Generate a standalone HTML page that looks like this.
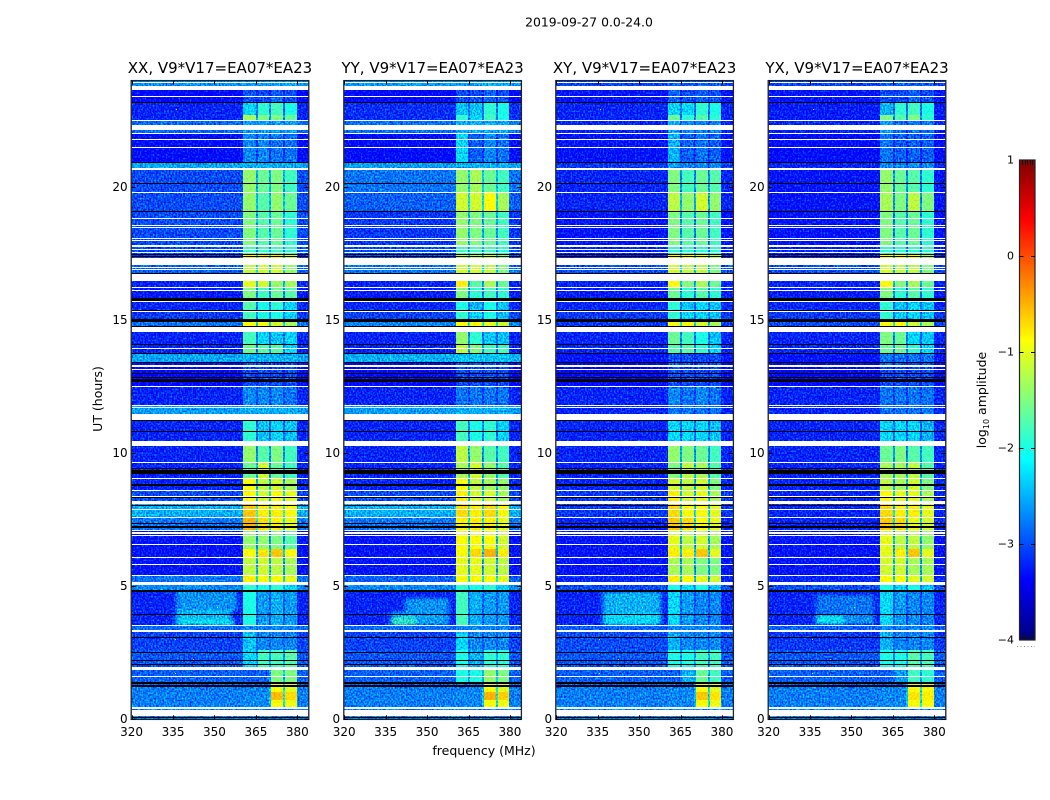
<!DOCTYPE html>
<html>
<head>
<meta charset="utf-8">
<title>2019-09-27 amplitude waterfall</title>
<style>
html,body{margin:0;padding:0;background:#fff;width:1050px;height:800px;overflow:hidden}
svg{display:block}
text{font-family:"DejaVu Sans","Liberation Sans",sans-serif;fill:#000}
</style>
</head>
<body>
<svg id="chart" xmlns="http://www.w3.org/2000/svg" width="1050" height="800" viewBox="0 0 1050 800">
  <defs id="defs"></defs>
  <text x="589" y="26.5" font-size="12.4" text-anchor="middle">2019-09-27 0.0-24.0</text>
  <text transform="translate(102,399) rotate(-90)" font-size="12.5" text-anchor="middle">UT (hours)</text>
  <text x="484" y="755" font-size="12.5" text-anchor="middle">frequency (MHz)</text>
  <text transform="translate(986,400) rotate(-90)" font-size="12.5" text-anchor="middle">log<tspan font-size="8" dy="3">10</tspan><tspan dy="-3"> amplitude</tspan></text>
</svg>
<script>
// Panel and axis labels
const panelNames = ['XX','YY','XY','YX'];
const panelTitleSuffix = ', V9*V17=EA07*EA23';
const freqTicks = [320,335,350,365,380];
const utTicks = [0,5,10,15,20];
const colorbarTicks = [1,0,-1,-2,-3,-4];
// Frequency extents (MHz) of the four spectral windows
const bandEdges = [[360.4,364.9],[365.6,369.8],[370.5,374.9],[375.6,379.8]];
// UT boundaries (hours) of the level rows, descending
const utEdges = [24,23.65,23.16,22.71,22.52,22.03,20.94,20.68,19.81,19.06,17.82,17.48,17.33,16.77,16.47,16.24,15.83,15.41,15.04,14.77,14.55,14.06,13.76,13.38,12.48,11.80,11.47,10.45,10.26,9.62,9.06,8.61,8.08,7.56,7.07,6.39,6.09,5.38,5.04,4.85,3.53,3.27,2.59,1.95,1.39,1.20,1.02,0.71,0.45,0];
// log10 amplitude per row: [background, window1, window2, window3, window4]
const levelsXX = [[-2.55,-2.5,-2.5,-2.4,-2.4],[-3.3,-2.9,-2.9,-2.8,-2.9],[-3.1,-2.2,-2.0,-1.9,-2.1],[-3.1,-1.4,-1.6,-1.6,-1.7],[-2.75,-2.5,-2.5,-2.5,-2.5],[-3.25,-2.6,-2.6,-2.7,-2.7],[-2.45,-2.4,-2.4,-2.4,-2.4],[-2.9,-1.5,-1.7,-1.6,-1.9],[-2.9,-1.5,-1.8,-1.5,-1.7],[-2.9,-1.6,-1.8,-1.7,-2.0],[-2.9,-1.9,-1.9,-1.9,-2.0],[-3.0,-0.9,-0.9,-0.9,-1.2],[-2.8,-1.3,-1.2,-1.2,-1.5],[-3.0,-1.2,-1.2,-1.2,-1.5],[-3.1,-1.1,-1.2,-1.5,-1.4],[-3.15,-1.6,-1.9,-1.7,-1.8],[-3.1,-1.8,-2.1,-2.0,-2.2],[-3.0,-1.9,-2.1,-2.1,-2.2],[-2.7,-1.0,-1.0,-1.2,-1.4],[-3.1,-2.0,-2.2,-2.3,-2.2],[-3.1,-1.9,-2.2,-2.3,-2.2],[-3.1,-1.7,-1.8,-1.8,-2.2],[-2.45,-2.4,-2.4,-2.4,-2.4],[-3.3,-2.9,-2.9,-2.9,-2.9],[-3.1,-2.6,-2.6,-2.6,-2.7],[-2.5,-2.4,-2.4,-2.4,-2.4],[-3.1,-2.0,-2.3,-2.2,-2.3],[-3.1,-1.8,-2.0,-1.9,-2.1],[-3.1,-1.5,-1.8,-1.6,-1.9],[-3.1,-1.7,-1.2,-1.7,-1.9],[-3.1,-1.0,-1.3,-1.2,-1.4],[-2.9,-0.95,-1.2,-0.95,-1.1],[-2.4,-0.7,-0.9,-0.9,-1.0],[-2.7,-0.6,-0.8,-0.9,-1.1],[-3.2,-1.5,-1.5,-1.6,-1.8],[-3.2,-1.0,-0.85,-0.7,-1.0],[-3.2,-1.3,-1.2,-1.3,-1.4],[-2.7,-0.9,-1.0,-1.0,-1.1],[-2.6,-2.0,-2.1,-2.0,-2.2],[-3.1,-2.1,-2.5,-2.4,-2.5],[-2.75,-2.6,-2.6,-2.6,-2.6],[-2.95,-2.3,-2.6,-2.6,-2.6],[-2.85,-2.2,-1.9,-1.9,-1.8],[-2.8,-2.8,-2.8,-1.6,-1.6],[-2.8,-2.8,-2.8,-1.1,-1.1],[-2.65,-2.6,-2.6,-1.0,-1.1],[-2.65,-2.6,-2.6,-0.65,-0.8],[-2.65,-2.6,-2.6,-1.0,-1.05],[-2.6,-2.6,-2.6,-2.6,-2.6]];
const levelsYY = [[-2.5,-2.5,-2.5,-2.4,-2.4],[-3.3,-2.9,-2.9,-2.8,-2.9],[-3.05,-2.3,-2.3,-2.0,-2.1],[-3.05,-2.0,-2.2,-1.9,-2.1],[-2.7,-2.4,-2.4,-2.4,-2.4],[-3.25,-2.2,-2.8,-2.6,-2.7],[-2.5,-2.4,-2.4,-2.4,-2.4],[-2.7,-1.5,-1.4,-1.7,-1.9],[-2.8,-1.2,-1.2,-1.0,-1.4],[-3.0,-1.5,-1.6,-1.7,-1.9],[-2.9,-1.9,-1.9,-1.9,-2.0],[-2.9,-1.3,-1.3,-1.2,-1.5],[-2.7,-1.2,-1.2,-1.3,-1.6],[-2.9,-1.2,-1.3,-1.4,-1.6],[-3.1,-0.9,-1.8,-1.4,-1.7],[-3.15,-1.6,-2.0,-1.9,-2.0],[-3.1,-2.1,-2.4,-2.1,-2.3],[-2.95,-2.0,-2.2,-2.1,-2.3],[-2.6,-1.0,-1.0,-1.1,-1.2],[-3.1,-1.5,-2.0,-2.3,-2.3],[-3.1,-1.5,-2.0,-2.3,-2.3],[-3.1,-1.3,-1.6,-1.9,-1.9],[-2.4,-2.3,-2.3,-2.3,-2.3],[-3.3,-2.9,-2.9,-2.9,-2.9],[-3.1,-2.7,-2.7,-2.7,-2.7],[-2.5,-2.4,-2.4,-2.4,-2.4],[-3.1,-1.9,-2.1,-2.0,-2.2],[-3.1,-1.7,-1.9,-1.9,-2.1],[-3.1,-1.3,-1.5,-1.8,-1.9],[-3.1,-1.4,-1.2,-1.5,-1.8],[-3.1,-1.0,-1.3,-1.4,-1.5],[-2.9,-0.9,-1.2,-1.2,-1.4],[-2.4,-0.8,-0.9,-0.8,-1.0],[-2.7,-0.9,-0.9,-0.9,-1.1],[-3.2,-1.0,-1.0,-1.0,-1.2],[-3.2,-1.0,-0.8,-0.6,-0.9],[-3.2,-1.1,-1.1,-1.2,-1.3],[-2.8,-1.0,-1.0,-1.0,-1.1],[-2.6,-2.0,-2.1,-2.0,-2.2],[-3.1,-1.9,-2.4,-2.5,-2.5],[-2.75,-2.6,-2.6,-2.6,-2.6],[-2.95,-2.2,-2.6,-2.6,-2.6],[-2.85,-2.1,-2.4,-2.0,-2.0],[-2.8,-2.1,-2.1,-1.5,-1.6],[-2.8,-2.7,-2.7,-1.1,-1.1],[-2.65,-2.6,-2.6,-1.0,-1.1],[-2.65,-2.6,-2.6,-0.6,-0.75],[-2.65,-2.6,-2.6,-1.0,-1.05],[-2.6,-2.6,-2.6,-2.6,-2.6]];
const levelsXY = [[-2.95,-2.8,-2.8,-2.8,-2.8],[-3.2,-2.8,-2.9,-2.8,-2.9],[-3.1,-2.2,-2.2,-2.0,-2.1],[-3.1,-1.7,-2.0,-1.8,-2.0],[-3.1,-2.4,-2.6,-2.6,-2.6],[-3.2,-2.4,-2.8,-2.7,-2.8],[-3.0,-2.5,-2.6,-2.6,-2.6],[-3.1,-1.6,-1.9,-1.7,-1.8],[-3.1,-1.3,-1.5,-1.2,-1.5],[-3.2,-1.6,-1.8,-1.7,-1.9],[-3.1,-2.0,-2.0,-2.0,-2.0],[-3.1,-1.0,-1.0,-1.0,-1.3],[-2.9,-1.2,-1.3,-1.3,-1.6],[-3.0,-1.1,-1.2,-1.3,-1.6],[-3.1,-1.0,-1.6,-1.4,-1.7],[-3.15,-1.7,-2.0,-1.8,-2.0],[-3.1,-2.0,-2.3,-2.2,-2.3],[-3.0,-2.0,-2.2,-2.2,-2.3],[-3.0,-1.0,-1.0,-1.2,-1.4],[-3.1,-1.7,-1.9,-2.1,-2.3],[-3.1,-1.7,-1.9,-2.1,-2.3],[-3.1,-1.8,-1.8,-2.0,-2.2],[-3.2,-2.9,-2.9,-2.9,-2.9],[-3.3,-2.9,-2.9,-2.9,-2.9],[-3.1,-2.6,-2.7,-2.6,-2.7],[-3.1,-2.7,-2.7,-2.7,-2.7],[-3.1,-2.2,-2.2,-2.2,-2.3],[-3.1,-1.9,-2.0,-2.0,-2.1],[-3.1,-1.5,-1.6,-1.7,-1.9],[-3.1,-1.6,-1.3,-1.4,-1.8],[-3.1,-1.2,-1.3,-1.2,-1.6],[-3.0,-0.9,-1.2,-1.1,-1.4],[-3.0,-0.8,-1.0,-1.0,-1.1],[-3.1,-0.7,-0.8,-1.0,-1.1],[-3.2,-1.1,-1.3,-1.2,-1.4],[-3.2,-0.9,-0.9,-0.7,-1.1],[-3.2,-1.4,-1.4,-1.6,-1.6],[-3.1,-0.9,-1.0,-1.1,-1.2],[-2.9,-2.1,-2.2,-2.1,-2.3],[-3.1,-2.2,-2.5,-2.6,-2.6],[-2.8,-2.6,-2.6,-2.6,-2.6],[-2.9,-2.4,-2.6,-2.6,-2.6],[-2.85,-2.1,-2.1,-1.9,-1.9],[-2.8,-2.8,-2.4,-1.7,-1.9],[-2.8,-2.8,-2.8,-1.1,-1.1],[-2.65,-2.6,-2.6,-1.0,-1.1],[-2.65,-2.6,-2.6,-0.7,-0.85],[-2.65,-2.6,-2.6,-1.0,-1.05],[-2.6,-2.6,-2.6,-2.6,-2.6]];
const levelsYX = [[-2.95,-2.8,-2.8,-2.8,-2.8],[-3.2,-2.9,-2.9,-2.8,-2.9],[-3.15,-2.4,-2.0,-1.9,-2.1],[-3.15,-1.6,-1.8,-1.6,-2.0],[-3.1,-2.5,-2.7,-2.7,-2.7],[-3.25,-2.7,-2.8,-2.8,-2.8],[-3.1,-2.6,-2.6,-2.6,-2.6],[-3.2,-1.5,-1.7,-1.8,-2.0],[-3.2,-1.4,-1.6,-1.3,-1.6],[-3.2,-1.6,-1.8,-1.7,-2.0],[-3.1,-2.0,-2.0,-2.0,-2.0],[-3.1,-1.0,-1.0,-1.0,-1.4],[-2.9,-1.2,-1.3,-1.3,-1.6],[-3.0,-1.1,-1.2,-1.3,-1.6],[-3.1,-1.0,-1.6,-1.4,-1.7],[-3.15,-1.6,-2.0,-1.8,-2.0],[-3.1,-2.0,-2.3,-2.2,-2.3],[-3.0,-2.0,-2.2,-2.2,-2.3],[-2.9,-1.0,-0.95,-1.2,-1.4],[-3.1,-1.6,-1.7,-2.2,-2.3],[-3.1,-1.6,-1.7,-2.2,-2.3],[-3.1,-1.7,-1.7,-2.0,-2.2],[-3.2,-2.7,-2.7,-2.7,-2.7],[-3.3,-2.9,-2.9,-2.9,-2.9],[-3.1,-2.7,-2.7,-2.7,-2.7],[-3.1,-2.7,-2.7,-2.7,-2.7],[-3.1,-2.2,-2.2,-2.2,-2.4],[-3.1,-1.9,-2.0,-2.0,-2.1],[-3.1,-1.7,-1.6,-1.8,-1.9],[-3.1,-1.4,-1.4,-1.3,-1.8],[-3.1,-1.3,-1.4,-1.2,-1.6],[-3.1,-1.0,-1.1,-1.1,-1.4],[-3.1,-0.8,-0.9,-0.9,-1.1],[-3.1,-0.7,-0.8,-1.1,-1.2],[-3.2,-1.1,-1.3,-1.3,-1.5],[-3.2,-1.1,-0.9,-0.7,-1.1],[-3.2,-1.2,-1.2,-1.4,-1.4],[-3.1,-1.0,-1.0,-1.1,-1.2],[-2.9,-2.1,-2.2,-2.1,-2.3],[-3.1,-2.2,-2.5,-2.6,-2.6],[-2.8,-2.6,-2.6,-2.6,-2.6],[-3.0,-2.4,-2.6,-2.6,-2.6],[-2.85,-2.1,-2.1,-1.8,-1.9],[-2.8,-2.8,-2.5,-1.9,-2.0],[-2.8,-2.8,-2.8,-1.1,-1.1],[-2.65,-2.6,-2.6,-1.0,-1.0],[-2.65,-2.6,-2.6,-0.85,-0.9],[-2.65,-2.6,-2.6,-1.0,-1.0],[-2.6,-2.6,-2.6,-2.6,-2.6]];
const panelLevels = [levelsXX, levelsYY, levelsXY, levelsYX];
// Broad-band emission patches: [utLow, utHigh, freqLow, freqHigh, log10 amplitude]
const patchesXX = [[4.06,4.85,336,358,-2.55],[3.72,4.10,336,356,-2.35],[3.53,3.72,336,357,-2.05]];
const patchesYY = [[4.02,4.55,342,358,-2.55],[3.53,4.02,337,358,-2.5],[3.53,3.83,337,346,-1.85]];
const patchesXY = [[3.95,4.77,337,358,-2.4],[3.53,3.95,337,358,-2.2]];
const patchesYX = [[3.87,4.66,337,358,-2.7],[3.57,3.87,337,358,-2.55],[3.57,3.87,337,347,-2.05]];
const panelPatches = [patchesXX, patchesYY, patchesXY, patchesYX];
// Flagged time ranges (hours)
const whiteFlags = [[23.91,23.95],[23.65,23.80],[23.39,23.42],[22.48,22.52],[22.14,22.33],[21.99,22.02],[21.78,21.80],[21.48,21.50],[20.64,20.71],[19.79,19.81],[18.81,18.83],[18.55,18.58],[18.46,18.50],[18.05,18.08],[17.97,18.01],[17.74,17.82],[17.63,17.67],[17.55,17.58],[17.07,17.33],[16.98,17.00],[16.87,16.91],[16.47,16.72],[16.21,16.24],[16.12,16.14],[15.68,15.71],[15.33,15.36],[14.55,14.77],[13.91,13.94],[13.23,13.32],[13.12,13.15],[12.49,12.52],[11.78,11.80],[11.69,11.73],[11.24,11.47],[10.40,10.44],[10.27,10.39],[9.62,9.66],[9.03,9.06],[8.57,8.60],[8.36,8.39],[8.08,8.20],[7.87,7.89],[7.56,7.61],[7.07,7.13],[6.98,7.02],[6.91,6.93],[6.55,6.58],[6.06,6.10],[5.83,5.85],[5.38,5.41],[5.04,5.15],[3.53,3.56],[3.28,3.35],[1.84,1.97],[1.58,1.62],[0.40,0.45],[0.11,0.34]];
const blackFlags = [[23.17,23.20],[20.91,20.95],[20.11,20.14],[19.06,19.09],[17.45,17.49],[17.41,17.42],[16.74,16.77],[15.71,15.82],[15.36,15.39],[14.94,15.03],[14.76,14.80],[14.06,14.09],[13.72,13.75],[13.38,13.41],[12.96,13.00],[12.83,12.88],[12.68,12.78],[11.20,11.23],[10.79,10.84],[9.40,9.45],[9.22,9.37],[8.77,8.86],[8.33,8.36],[8.03,8.06],[7.33,7.37],[7.18,7.26],[4.80,4.85],[3.92,3.95],[3.06,3.08],[2.48,2.51],[2.22,2.24],[2.02,2.06],[1.33,1.40],[1.21,1.28],[0.03,0.08]];
// Isolated interference pixels: [ut, freq, log10 amplitude]
const hotPixels = [[3.03,335.6,-0.8],[2.55,342.3,0.1],[2.25,342.3,-0.6],[2.02,342.3,0.1],[1.75,335.6,-0.8],[1.72,342.3,0.1],[1.60,352.6,0.0],[4.2,351,-1.2],[22.95,336,-0.7]];

const SVG_NS = 'http://www.w3.org/2000/svg';
const svg = document.getElementById('chart');
const defs = document.getElementById('defs');
const panelLeft = [131.6,344.2,556.2,768.6];
const plotWidth = 176.8;
const plotBottom = 719.2;
const pxPerHour = 26.6;
const pxPerDecade = 96;
const smoothAbove = -2.15;
const smoothLift = 0.1;
const colorbarLeft = 1019.5, colorbarWidth = 15.5, colorbarTop = 160;

function xScale(panel, freq){ return panelLeft[panel] + (freq - 320) * plotWidth / 64; }
function yScale(ut){ return plotBottom - ut * pxPerHour; }
function cbScale(v){ return colorbarTop + (1 - v) * pxPerDecade; }
function clip01(a){ return Math.max(0, Math.min(1, a)); }
function jet(v){
  const t = clip01((v + 4) / 5);
  const r = clip01(Math.min(4 * t - 1.5, -4 * t + 4.5));
  const g = clip01(Math.min(4 * t - 0.5, -4 * t + 3.5));
  const b = clip01(Math.min(4 * t + 0.5, -4 * t + 2.5));
  return 'rgb(' + Math.round(r * 255) + ',' + Math.round(g * 255) + ',' + Math.round(b * 255) + ')';
}
function make(tag, attrs, parent){
  const el = document.createElementNS(SVG_NS, tag);
  for (const k in attrs) el.setAttribute(k, attrs[k]);
  parent.appendChild(el);
  return el;
}
function rectSnap(x0, x1, yTop, yBot, fill, parent){
  const ya = Math.round(yTop);
  const h = Math.max(1, Math.round(yBot) - ya);
  const xa = Math.round(x0);
  return make('rect', {x: xa, y: ya, width: Math.max(1, Math.round(x1) - xa), height: h, fill: fill, 'shape-rendering': 'crispEdges'}, parent);
}
function makeNoiseFilter(id, seed, values){
  const f = make('filter', {id: id, x: 0, y: 0, width: 1, height: 1, 'color-interpolation-filters': 'sRGB'}, defs);
  make('feTurbulence', {type: 'fractalNoise', baseFrequency: '0.62 0.55', numOctaves: 1, seed: seed, result: 'raw'}, f);
  make('feColorMatrix', {'in': 'raw', type: 'matrix', values: values, result: 'tone'}, f);
  make('feComposite', {'in': 'SourceGraphic', in2: 'tone', operator: 'arithmetic', k1: 0, k2: 1, k3: 1, k4: -0.5, result: 'mixed'}, f);
  make('feComposite', {'in': 'mixed', in2: 'SourceAlpha', operator: 'in'}, f);
}

const blurFilter = make('filter', {id: 'soften', x: -0.1, y: -0.2, width: 1.2, height: 1.4}, defs);
make('feGaussianBlur', {stdDeviation: '2.2 1.4'}, blurFilter);

panelNames.forEach(function(name, p){
  makeNoiseFilter('speckle' + p, 3 + p * 7, '0.3 0 0 0 0.3  1.5 0 0 0 -0.34  0 0.4 0 0 0.3  0 0 0 0 1');
  makeNoiseFilter('soft' + p, 11 + p * 5, '0.25 0 0 0 0.375  0.4 0 0 0 0.3  0 0.2 0 0 0.4  0 0 0 0 1');
  const cp = make('clipPath', {id: 'clip' + p}, defs);
  make('rect', {x: panelLeft[p], y: yScale(24), width: plotWidth, height: 24 * pxPerHour}, cp);
});

panelNames.forEach(function(name, p){
  const panel = make('g', {}, svg);
  
  

  const plot = make('g', {'clip-path': 'url(#clip' + p + ')'}, panel);
  
  

  const noisy = make('g', {filter: 'url(#speckle' + p + ')'}, plot);
  const smooth = make('g', {filter: 'url(#soft' + p + ')'}, plot);
  const levels = panelLevels[p];
  levels.forEach(function(row, i){
    const yTop = yScale(utEdges[i]);
    const yBot = yScale(utEdges[i + 1]);
    const bg = row[0];
    const bgCell = rectSnap(xScale(p, 320) - 1, xScale(p, 384) + 1, yTop, yBot, jet(bg), noisy);
    
    
    bandEdges.forEach(function(edge, b){
      const level = row[b + 1];
      const isSmooth = level > smoothAbove;
      const cell = rectSnap(xScale(p, edge[0]), xScale(p, edge[1]), yTop, yBot, jet(isSmooth ? level + smoothLift : level), isSmooth ? smooth : noisy);
      
      
      if (b < bandEdges.length - 1){
        const gapLevel = bg * 0.62 + (level + row[b + 2]) / 2 * 0.38;
        const gapCell = rectSnap(xScale(p, edge[1]), xScale(p, bandEdges[b + 1][0]), yTop, yBot, jet(gapLevel), noisy);
        
        
      }
    });
  });
  const patchLayer = make('g', {filter: 'url(#soften)'}, noisy);
  panelPatches[p].forEach(function(pt){
    const patch = rectSnap(xScale(p, pt[2]), xScale(p, pt[3]), yScale(pt[1]), yScale(pt[0]), jet(pt[4]), patchLayer);
    
    
  });
  if (p !== 1) hotPixels.forEach(function(h){
    const hot = rectSnap(xScale(p, h[1]), xScale(p, h[1]) + 1, yScale(h[0]), yScale(h[0]) + 1, jet(h[2]), plot);
    
    
  });
  whiteFlags.forEach(function(fl){
    const w = rectSnap(xScale(p, 320) - 1, xScale(p, 384) + 1, yScale(fl[1]), yScale(fl[0]), '#fff', plot);
    
    
  });
  blackFlags.forEach(function(fl){
    const k = rectSnap(xScale(p, 320) - 1, xScale(p, 384) + 1, yScale(fl[1]), yScale(fl[0]), '#000', plot);
    
    
  });

  // frame
  const frame = make('rect', {x: panelLeft[p] - 0.4, y: yScale(24) - 0.2, width: plotWidth + 0.8, height: 24 * pxPerHour + 0.4, fill: 'none', stroke: '#222', 'stroke-width': 1.3}, panel);
  
  

  // ticks and labels
  freqTicks.forEach(function(f){
    const x = Math.round(xScale(p, f)) + 0.5;
    const t1 = make('line', {x1: x, x2: x, y1: plotBottom, y2: plotBottom - 4, stroke: '#000', 'stroke-width': 1}, panel);
    
    
    const t2 = make('line', {x1: x, x2: x, y1: yScale(24), y2: yScale(24) + 4, stroke: '#000', 'stroke-width': 1}, panel);
    
    
    const lb = make('text', {x: xScale(p, f), y: 736, 'font-size': 12, 'text-anchor': 'middle'}, panel);
    lb.textContent = String(f);
    
    
  });
  utTicks.forEach(function(u){
    const y = Math.round(yScale(u)) + 0.5;
    const t1 = make('line', {x1: panelLeft[p], x2: panelLeft[p] + 4, y1: y, y2: y, stroke: '#000', 'stroke-width': 1}, panel);
    
    
    const t2 = make('line', {x1: panelLeft[p] + plotWidth, x2: panelLeft[p] + plotWidth - 4, y1: y, y2: y, stroke: '#000', 'stroke-width': 1}, panel);
    
    
    const lb = make('text', {x: panelLeft[p] - 4, y: yScale(u) + 4, 'font-size': 12, 'text-anchor': 'end'}, panel);
    lb.textContent = String(u);
    
    
  });
  const title = make('text', {x: panelLeft[p] + plotWidth / 2, y: 73, 'font-size': 15, 'text-anchor': 'middle'}, panel);
  title.textContent = name + panelTitleSuffix;
  
  
});

// colorbar
const cb = make('g', {}, svg);


for (let s = 0; s < 240; s++){
  const v = -4 + (s + 0.5) * 5 / 240;
  const seg = make('rect', {x: colorbarLeft, y: cbScale(v) - 1.2, width: colorbarWidth, height: 2.4, fill: jet(v), 'shape-rendering': 'crispEdges'}, cb);
  
  
}
const cbFrame = make('rect', {x: colorbarLeft, y: colorbarTop, width: colorbarWidth, height: 5 * pxPerDecade, fill: 'none', stroke: '#222', 'stroke-width': 1.2}, cb);


colorbarTicks.forEach(function(v){
  const y = Math.round(cbScale(v)) + 0.5;
  if (v < 1 && v > -4){
    const a = make('line', {x1: colorbarLeft, x2: colorbarLeft + 4, y1: y, y2: y, stroke: '#000'}, cb);
    
    
    const b = make('line', {x1: colorbarLeft + colorbarWidth, x2: colorbarLeft + colorbarWidth - 4, y1: y, y2: y, stroke: '#000'}, cb);
    
    
  }
  const lb = make('text', {x: 1014, y: cbScale(v) + 3.5, 'font-size': 11, 'text-anchor': 'end'}, cb);
  lb.textContent = String(v).replace('-', '\u2212');
  
  
});
for (let m = 1; m <= 5; m++){
  const x = Math.round(colorbarLeft + m * colorbarWidth / 6) + 0.5;
  const top = make('line', {x1: x, x2: x, y1: colorbarTop, y2: colorbarTop + 5, stroke: '#111'}, cb);
  
  
  const bot = make('line', {x1: x, x2: x, y1: colorbarTop + 5 * pxPerDecade, y2: colorbarTop + 5 * pxPerDecade - 5, stroke: '#111'}, cb);
  
  
}
const dots = make('line', {x1: 1017, x2: 1035, y1: 646.5, y2: 646.5, stroke: '#888', 'stroke-width': 1, 'stroke-dasharray': '1 2.5'}, cb);


</script>
</body>
</html>
